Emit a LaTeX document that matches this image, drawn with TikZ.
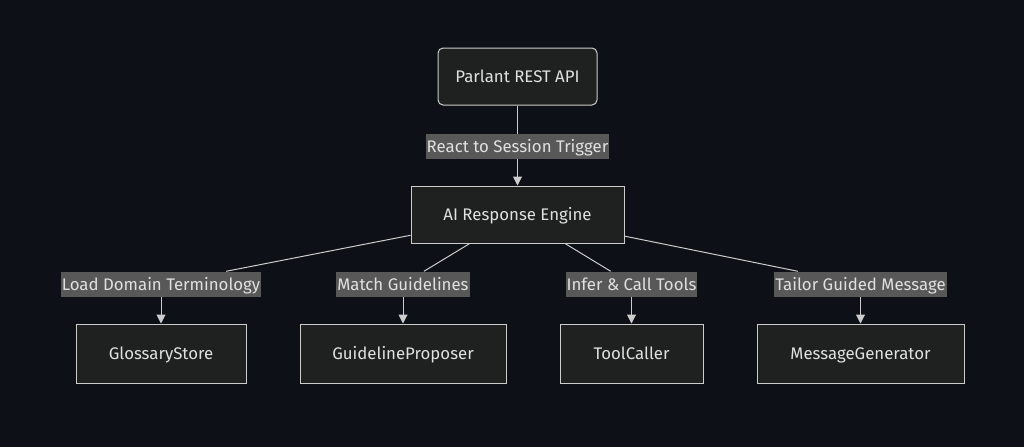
\documentclass[tikz,border=0pt]{standalone}
\usepackage{fontspec}
\setmainfont{Fira Sans}
\usetikzlibrary{arrows.meta}
\definecolor{bgcol}{HTML}{0D1117}
\definecolor{boxfill}{HTML}{1F2020}
\definecolor{linecol}{HTML}{CCCCCC}
\definecolor{lblfill}{HTML}{585858}
\definecolor{txtcol}{HTML}{E0E0E0}
\begin{document}
\begin{tikzpicture}[
  x=1pt,y=-1pt,
  box/.style={draw=linecol, fill=boxfill, text=txtcol, line width=1pt, minimum height=57pt, text height=14pt, text depth=2pt, font=\fontsize{16.8}{20}\selectfont},
  lbl/.style={fill=lblfill, text=txtcol, inner xsep=1pt, inner ysep=0pt, minimum height=25pt, text height=14pt, text depth=2pt, font=\fontsize{16.8}{20}\selectfont},
  edge/.style={draw=linecol, line width=1pt},
  arrow/.style={edge, -{Triangle[length=9pt,width=9pt]}}
]
\fill[bgcol] (0,0) rectangle (1024,447);
\node[box, rounded corners=5pt, minimum width=159pt] (api) at (517.5,76.5) {Parlant REST API};
\node[box, minimum width=213pt] (engine) at (517.5,214.5) {AI Response Engine};
\node[box, minimum width=170pt, minimum height=59pt] (glossary) at (161,353.5) {GlossaryStore};
\node[box, minimum width=206pt, minimum height=59pt] (proposer) at (403,353.5) {GuidelineProposer};
\node[box, minimum width=143pt, minimum height=59pt] (caller) at (631.5,353.5) {ToolCaller};
\node[box, minimum width=207pt, minimum height=59pt] (generator) at (860.5,353.5) {MessageGenerator};
\node[lbl] (trigger) at (517.5,146.5) {React to Session Trigger};
\node[lbl] (terms) at (161,284) {Load Domain Terminology};
\node[lbl] (match) at (403,284) {Match Guidelines};
\node[lbl] (infer) at (631.5,284) {Infer \& Call Tools};
\node[lbl] (tailor) at (860.5,284) {Tailor Guided Message};
\draw[edge] (api) -- (trigger);
\draw[arrow] (trigger) -- (engine);
\draw[edge] (engine) -- (terms);
\draw[arrow] (terms) -- (glossary);
\draw[edge] (engine) -- (match);
\draw[arrow] (match) -- (proposer);
\draw[edge] (engine) -- (infer);
\draw[arrow] (infer) -- (caller);
\draw[edge] (engine) -- (tailor);
\draw[arrow] (tailor) -- (generator);
\end{tikzpicture}
\end{document}
